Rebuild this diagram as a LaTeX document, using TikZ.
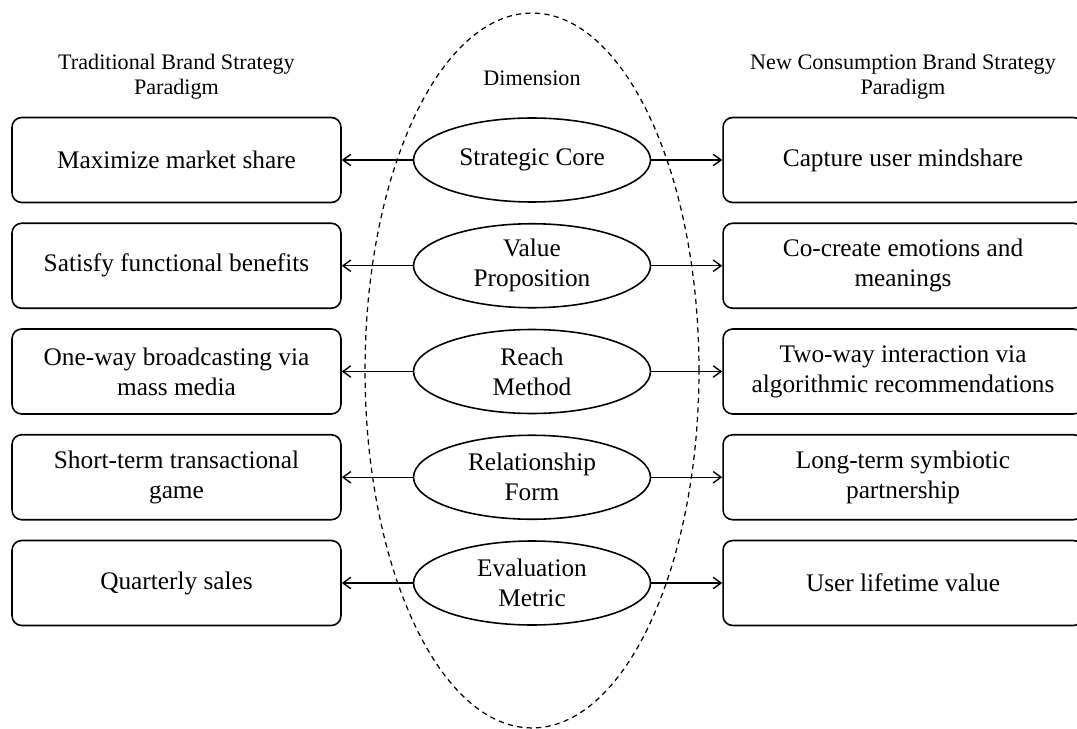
\documentclass[tikz,border=0pt]{standalone}
\usepackage{fontspec}
\setmainfont{Liberation Serif}
\usetikzlibrary{shapes.geometric,arrows.meta}

\begin{document}
\begin{tikzpicture}[x=0.02cm,y=-0.02cm,
    box/.style={draw, rounded corners=5.5pt, line width=0.9pt, minimum height=1.7cm,
        inner sep=0pt, align=center, font=\fontsize{14.4}{17}\selectfont},
    dimnode/.style={draw, ellipse, line width=0.9pt, minimum width=4.74cm, minimum height=1.68cm,
        inner sep=0pt, align=center, font=\fontsize{14.4}{17}\selectfont},
    head/.style={align=center, font=\fontsize{12.6}{14.2}\selectfont},
    link/.style={-{Straight Barb[length=4.5pt,width=6.5pt]}, line width=0.8pt}]

    % 用紙の範囲
    \useasboundingbox (0,0) rectangle (1077,729);

    % パラメータの定義
    \pgfmathsetmacro{\xl}{176.5}
    \pgfmathsetmacro{\xm}{532}
    \pgfmathsetmacro{\xr}{903}
    \pgfmathsetmacro{\dy}{105.75}
    \pgfmathsetmacro{\ya}{160}
    \pgfmathsetmacro{\yb}{\ya+\dy}
    \pgfmathsetmacro{\yc}{\ya+2*\dy}
    \pgfmathsetmacro{\yd}{\ya+3*\dy}
    \pgfmathsetmacro{\ye}{\ya+4*\dy}

    % 中央の破線の楕円
    \coordinate (M) at (\xm,370.5);
    \draw [line width=0.7pt, dash pattern=on 3pt off 2.4pt] (M) ellipse [x radius=3.34cm, y radius=7.15cm];

    % 見出し
    \node[head] (hl) at (\xl,77) {Traditional Brand Strategy\\Paradigm};
    \node[head] (hm) at (\xm,78) {Dimension};
    \node[head] (hr) at (\xr,77) {New Consumption Brand Strategy\\Paradigm};

    % 中央の次元
    \node[dimnode] (d1) at (\xm,\ya) {Strategic Core};
    \node[dimnode] (d2) at (\xm,\yb) {Value\\Proposition};
    \node[dimnode] (d3) at (\xm,\yc) {Reach\\Method};
    \node[dimnode] (d4) at (\xm,\yd) {Relationship\\Form};
    \node[dimnode] (d5) at (\xm,\ye) {Evaluation\\Metric};

    % 左側の箱
    \node[box, minimum width=6.58cm] (l1) at (\xl,\ya) {Maximize market share};
    \node[box, minimum width=6.58cm] (l2) at (\xl,\yb) {Satisfy functional benefits};
    \node[box, minimum width=6.58cm] (l3) at (\xl,\yc) {One-way broadcasting via\\mass media};
    \node[box, minimum width=6.58cm] (l4) at (\xl,\yd) {Short-term transactional\\game};
    \node[box, minimum width=6.58cm] (l5) at (\xl,\ye) {Quarterly sales};

    % 右側の箱
    \node[box, minimum width=7.2cm] (r1) at (\xr,\ya) {Capture user mindshare};
    \node[box, minimum width=7.2cm] (r2) at (\xr,\yb) {Co-create emotions and\\meanings};
    \node[box, minimum width=7.2cm] (r3) at (\xr,\yc) {Two-way interaction via\\algorithmic recommendations};
    \node[box, minimum width=7.2cm] (r4) at (\xr,\yd) {Long-term symbiotic\\partnership};
    \node[box, minimum width=7.2cm] (r5) at (\xr,\ye) {User lifetime value};

    % 矢印の描画
    \draw [link] (d1) -- (l1);
    \draw [link] (d2) -- (l2);
    \draw [link] (d3) -- (l3);
    \draw [link] (d4) -- (l4);
    \draw [link] (d5) -- (l5);
    \draw [link] (d1) -- (r1);
    \draw [link] (d2) -- (r2);
    \draw [link] (d3) -- (r3);
    \draw [link] (d4) -- (r4);
    \draw [link] (d5) -- (r5);

\end{tikzpicture}
\end{document}
